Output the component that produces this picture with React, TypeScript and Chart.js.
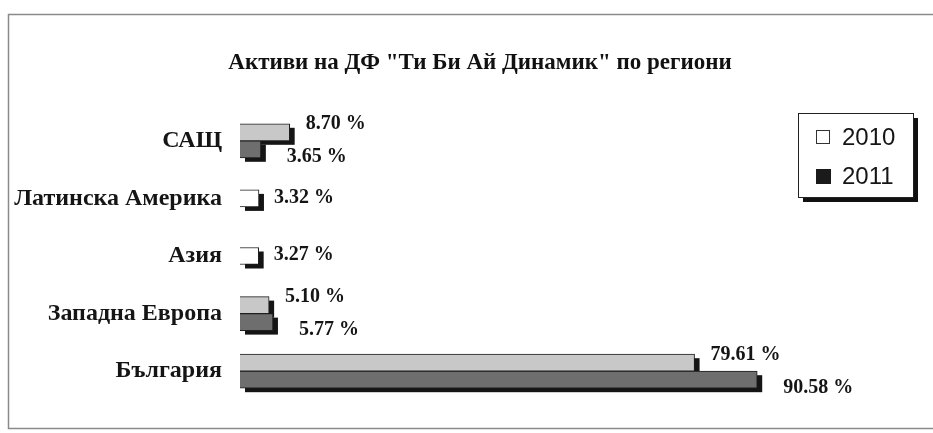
import React, { useEffect, useRef } from "react";
import { Chart, registerables } from "chart.js";

Chart.register(...registerables);

const TITLE = 'Активи на ДФ "Ти Би Ай Динамик" по региони';
const categories = ["САЩ", "Латинска Америка", "Азия", "Западна Европа", "България"];
const seriesLabels = ["2010", "2011"];
const values2010: (number | null)[] = [8.7, 3.32, 3.27, 5.1, 79.61];
const values2011: (number | null)[] = [3.65, null, null, 5.77, 90.58];

const SERIF = "'Liberation Serif', 'Times New Roman', serif";
const SANS = "'Liberation Sans', Arial, sans-serif";

const framePlugin = {
  id: "frame",
  beforeDraw(chart: any) {
    const ctx = chart.ctx;
    ctx.save();
    ctx.fillStyle = "#ffffff";
    ctx.fillRect(0, 0, chart.width, chart.height);
    ctx.strokeStyle = "#8a8a8a";
    ctx.lineWidth = 1.5;
    ctx.beginPath();
    ctx.moveTo(chart.width + 5, 14.5);
    ctx.lineTo(8.5, 14.5);
    ctx.lineTo(8.5, 428.5);
    ctx.lineTo(chart.width + 5, 428.5);
    ctx.stroke();
    // title
    ctx.fillStyle = "#111";
    ctx.font = `bold 23px ${SERIF}`;
    ctx.textAlign = "center";
    ctx.textBaseline = "middle";
    ctx.fillText(TITLE, 480, 63);
    ctx.restore();
  },
};

const shadowPlugin = {
  id: "barShadow",
  beforeDatasetsDraw(chart: any) {
    const ctx = chart.ctx;
    ctx.save();
    ctx.fillStyle = "#151515";
    chart.data.datasets.forEach((ds: any, i: number) => {
      const meta = chart.getDatasetMeta(i);
      meta.data.forEach((el: any, j: number) => {
        if (ds.data[j] == null) return;
        const { x, y, base, height } = el.getProps(["x", "y", "base", "height"], true);
        ctx.fillRect(Math.min(base, x) + 5, y - height / 2 + 4, Math.abs(x - base), height);
      });
    });
    ctx.restore();
  },
};

const labelPlugin = {
  id: "valueLabels",
  afterDatasetsDraw(chart: any) {
    const ctx = chart.ctx;
    ctx.save();
    ctx.fillStyle = "#151515";
    ctx.font = `bold 20px ${SERIF}`;
    ctx.textAlign = "left";
    ctx.textBaseline = "middle";
    chart.data.datasets.forEach((ds: any, i: number) => {
      const meta = chart.getDatasetMeta(i);
      meta.data.forEach((el: any, j: number) => {
        const v = ds.data[j];
        if (v == null) return;
        const single = values2010[j] == null || values2011[j] == null;
        const { x, y } = el.getProps(["x", "y"], true);
        let dx = 15;
        let dy = -1;
        if (!single) {
          dx = i === 0 ? 16 : 26;
          dy = i === 0 ? -8 : 8;
        }
        ctx.fillText(v.toFixed(2) + " %", x + dx, y + dy);
      });
    });
    ctx.restore();
  },
};

const legendPlugin = {
  id: "boxLegend",
  afterDraw(chart: any) {
    const ctx = chart.ctx;
    ctx.save();
    const bx = 798, by = 113, bw = 115, bh = 84;
    ctx.fillStyle = "#111";
    ctx.fillRect(bx + 5, by + 5, bw, bh);
    ctx.fillStyle = "#fff";
    ctx.fillRect(bx, by, bw, bh);
    ctx.strokeStyle = "#222";
    ctx.lineWidth = 1;
    ctx.strokeRect(bx + 0.5, by + 0.5, bw, bh);
    ctx.font = `24px ${SANS}`;
    ctx.textBaseline = "middle";
    ctx.textAlign = "left";
    const rows = [137, 176];
    seriesLabels.forEach((lab, i) => {
      const cy = rows[i];
      if (i === 0) {
        ctx.fillStyle = "#fff";
        ctx.fillRect(816, cy - 7, 14, 14);
        ctx.strokeStyle = "#333";
        ctx.strokeRect(816.5, cy - 6.5, 13, 13);
      } else {
        ctx.fillStyle = "#1a1a1a";
        ctx.fillRect(816, cy - 7, 15, 15);
      }
      ctx.fillStyle = "#151515";
      ctx.fillText(lab, 842, cy + 1);
    });
    ctx.restore();
  },
};

export default function App() {
  const canvasRef = useRef<HTMLCanvasElement | null>(null);

  useEffect(() => {
    document.body.style.margin = "0";
    const canvas = canvasRef.current;
    if (!canvas) return;
    const chart = new Chart(canvas, {
      type: "bar",
      data: {
        labels: categories,
        datasets: [
          {
            label: seriesLabels[0],
            data: values2010,
            backgroundColor: (c: any) => (values2011[c.dataIndex] == null ? "#ffffff" : "#c8c8c8"),
            borderColor: "#1e1e1e",
            borderWidth: 1,
            barThickness: 17,
            skipNull: true,
          } as any,
          {
            label: seriesLabels[1],
            data: values2011,
            backgroundColor: "#6e6e6e",
            borderColor: "#1e1e1e",
            borderWidth: 1,
            barThickness: 17,
            skipNull: true,
          } as any,
        ],
      },
      options: {
        indexAxis: "y",
        responsive: false,
        animation: false,
        layout: { padding: { top: 112, bottom: 33, left: 0, right: 122 } },
        scales: {
          x: { display: false, min: 0, max: 100 },
          y: {
            grid: { display: false, drawTicks: false },
            border: { display: false },
            ticks: {
              color: "#151515",
              padding: 18,
              font: { family: SERIF, weight: "bold", size: 24 },
            },
            afterFit: (s: any) => {
              s.width = 240;
            },
          },
        },
        plugins: {
          legend: { display: false },
          title: { display: false },
          tooltip: { enabled: false },
        },
      },
      plugins: [framePlugin, shadowPlugin, labelPlugin, legendPlugin],
    });
    return () => chart.destroy();
  }, []);

  return (
    <div style={{ width: 933, height: 433 }}>
      <canvas ref={canvasRef} width={933} height={433} style={{ display: "block" }} />
    </div>
  );
}
